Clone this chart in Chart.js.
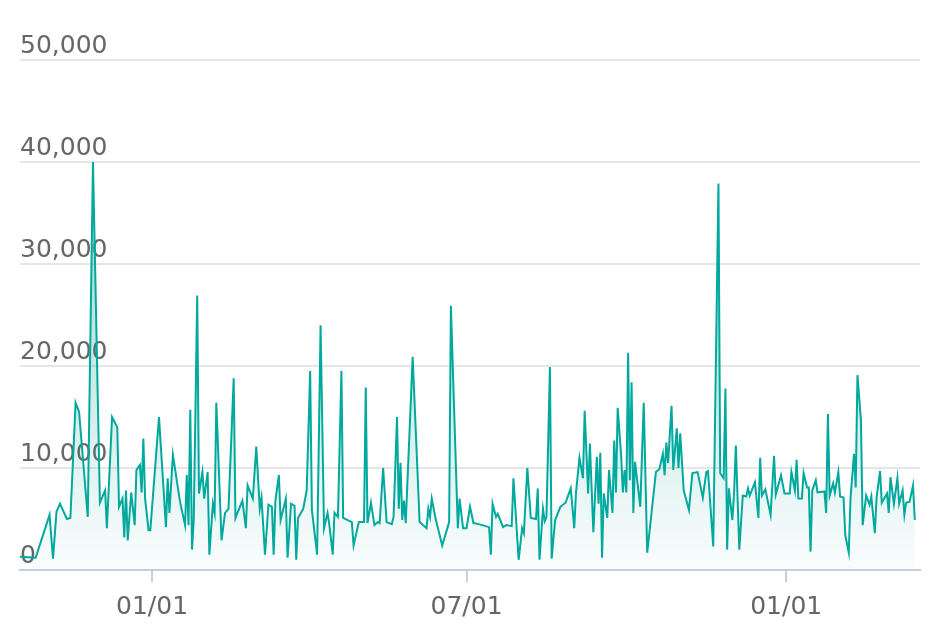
<!DOCTYPE html>
<html><head><meta charset="utf-8">
<script src="https://cdn.jsdelivr.net/npm/chart.js@4/dist/chart.umd.min.js"></script>
<style>html,body{margin:0;padding:0;background:#fff}#wrap{width:952px;height:642px}</style>
</head><body><div id="wrap"><canvas id="c"></canvas></div>
<script>
// day offsets from the first observation (day 76 = 01/01, day 257 = 07/01, day 441 = 01/01)
const days = [0,9,17,19,21,23,27,29,32,34,39,42,46,49,50,53,56,57,59,60,61,62,64,66,67,69,70,71,72,74,75,80,84,85,86,88,92,95,96,97,98,99,100,102,103,105,106,108,109,111,112,113,116,118,120,123,124,128,130,131,134,136,138,139,141,143,145,146,147,149,150,153,154,156,158,159,160,163,165,167,168,171,173,175,177,178,180,181,183,185,186,191,192,195,198,199,200,202,204,206,207,209,211,214,215,217,218,219,220,221,222,226,230,234,235,236,237,239,243,247,248,252,253,255,257,259,261,264,266,270,271,272,274,275,278,280,283,284,287,289,290,292,294,297,298,299,301,302,303,305,306,308,311,314,317,319,320,322,324,325,327,328,330,332,333,334,335,336,338,339,341,342,343,344,346,347,348,349,350,351,352,353,354,357,359,361,366,368,370,371,372,373,375,376,378,379,380,382,385,387,390,393,395,396,399,402,403,405,406,407,408,410,411,412,414,416,418,419,420,423,425,426,427,429,432,434,435,438,440,443,444,446,447,448,450,451,453,454,455,456,458,459,463,464,465,466,468,469,471,472,474,475,477,478,480,481,482,484,485,487,489,490,492,493,495,496,499,500,501,503,505,506,508,509,510,512,514,515];
const values = [1300,1200,5400,1100,5700,6500,5000,5100,16400,15500,5200,40000,6600,7800,4100,15000,14000,6200,7000,3200,7800,2900,7600,4400,9800,10300,7600,12900,7000,3900,3900,15000,4200,9000,5600,11300,6800,4400,9300,4400,15700,2000,4900,26900,7500,9600,7000,9600,1500,6500,5600,16400,2900,5600,6000,18800,5100,6800,4100,8300,7000,12100,6000,7100,1500,6400,6200,1500,6800,9300,4900,7000,1200,6500,6300,1000,5100,6000,7800,19500,5900,1500,24000,4100,5600,4500,1500,5600,5200,19500,5100,4700,2400,4700,4700,17900,4600,6600,4400,4700,4600,10000,4700,4500,5200,15000,6000,10500,4900,6800,4600,20900,4700,4100,6000,5200,7000,5200,2400,4700,25900,4100,7000,4100,4100,6200,4600,4500,4400,4200,1500,6500,5200,5500,4200,4400,4300,9000,1000,4100,3600,10000,5100,5000,8000,1000,6000,4800,5200,19900,1100,4900,6200,6600,8000,4100,7600,11000,9000,15600,7500,12400,3700,11100,6500,11500,1200,7500,5100,9800,5600,12700,7600,15900,11200,7600,9800,7600,21300,8800,18400,5600,10600,6200,16400,1700,9600,9900,11400,9300,12500,10500,16100,9800,13900,10000,13400,7800,5900,9500,9600,7100,9600,9700,2300,37900,9500,9000,17800,2000,8000,4900,7600,12200,2000,7300,7200,8000,7300,8600,5100,11000,7300,7900,5400,11200,7400,9300,7500,7500,9600,7800,10800,7000,7000,9500,8100,8100,1800,7800,8800,7600,7700,5600,15300,7300,8500,7600,9600,7200,7100,3400,1700,7000,11400,8100,19100,14700,4400,7300,6400,7200,3600,7100,9700,6600,7500,5600,9100,6500,9000,6500,7800,5400,6600,6700,8300,4900];
const xTickDays = [76,257,441];
const xTickLabels = ['01/01','07/01','01/01'];
const yTicks = [0,10000,20000,30000,40000,50000];

const pts = days.map((d,i)=>({x:d,y:values[i]}));
const ctx = document.getElementById('c').getContext('2d');
new Chart(ctx,{
  type:'line',
  data:{datasets:[{data:pts,borderColor:'#00a99d',borderWidth:2,pointRadius:0,tension:0,fill:true,
    backgroundColor:(c)=>{const a=c.chart.chartArea;if(!a)return 'rgba(0,169,157,0.2)';
      const g=c.chart.ctx.createLinearGradient(0,a.top+200,0,a.bottom);
      g.addColorStop(0,'rgba(0,150,140,0.3)');g.addColorStop(1,'rgba(0,150,140,0.02)');return g;}}]},
  options:{responsive:true,maintainAspectRatio:false,animation:false,
    layout:{padding:{left:20,right:32,top:60,bottom:10}},
    plugins:{legend:{display:false},tooltip:{enabled:false}},
    scales:{
      x:{type:'linear',min:0,max:518,
        afterBuildTicks:(s)=>{s.ticks=xTickDays.map(v=>({value:v}));},
        ticks:{callback:(v)=>{const i=xTickDays.indexOf(v);return i>=0?xTickLabels[i]:'';},
          font:{size:25,family:'DejaVu Sans'},color:'#666',padding:10,maxRotation:0,autoSkip:false},
        grid:{drawOnChartArea:false,drawTicks:true,tickLength:12,color:'#c5cfe0',lineWidth:2},
        border:{color:'#c5cfe0',width:2}},
      y:{min:0,max:50000,
        afterBuildTicks:(s)=>{s.ticks=yTicks.map(v=>({value:v}));},
        ticks:{mirror:true,labelOffset:-14,padding:0,font:{size:25,family:'DejaVu Sans'},color:'#666',
          callback:(v)=>v.toLocaleString('en-US')},
        grid:{color:'#e6e6e6',lineWidth:2,drawTicks:false},
        border:{display:false}}
    }}
});
</script></body></html>
